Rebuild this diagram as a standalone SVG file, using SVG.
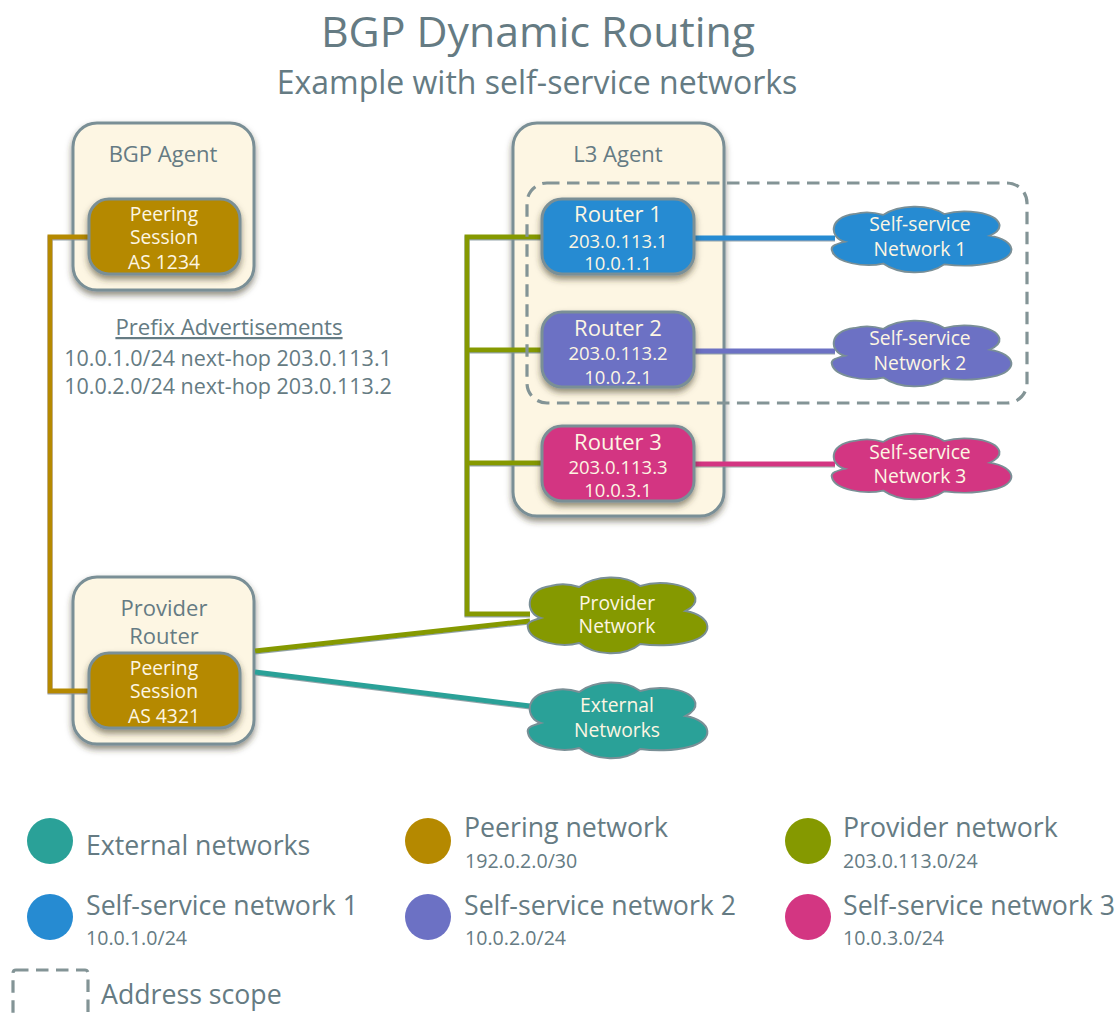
<svg xmlns="http://www.w3.org/2000/svg" xmlns:xlink="http://www.w3.org/1999/xlink" width="1119" height="1014" viewBox="0 0 1119 1014">
<style>
text{font-family:"Open Sans","DejaVu Sans",sans-serif;text-anchor:middle;fill:#657b83}
.l{text-anchor:start}
.w{fill:#fdf6e3}
.host{fill:#fdf6e3;stroke:#7a8f96;stroke-width:3;filter:url(#sh)}
.box{stroke:#7a8f96;stroke-width:3;filter:url(#sh)}
.cl{stroke:#7a8f96;stroke-width:2;vector-effect:non-scaling-stroke}
.dash{fill:none;stroke:#839496;stroke-width:3.2;stroke-dasharray:12.5 7.5}
.c{fill:none;stroke-width:5}
.t1{font-size:18.5px}
.t2{font-size:22px}
.t3{font-size:19.3px}
.t4{font-size:21.5px}
.t5{font-size:26.7px}
.t6{font-size:19.6px}
.pe{fill:#b58900}.pes{stroke:#b58900}
.bl{fill:#268bd2}.bls{stroke:#268bd2}
.vi{fill:#6c71c4}.vis{stroke:#6c71c4}
.ma{fill:#d33682}.mas{stroke:#d33682}
.gr{fill:#859900}.grs{stroke:#859900}
.cy{fill:#2aa198}.cys{stroke:#2aa198}
</style>
<defs>
<filter id="sh" x="-15%" y="-15%" width="130%" height="135%"><feDropShadow dx="0" dy="4" stdDeviation="3" flood-color="#3b3520" flood-opacity=".55"/></filter>
<filter id="edge" x="0" y="0" width="1119" height="1014" filterUnits="userSpaceOnUse"><feDropShadow dx="0" dy="1" stdDeviation=".4" flood-color="#7a8f96" flood-opacity=".8"/></filter>
<path id="cloud" d="M15 40C0 36-3 12 25 8C35 5 45 6 54 9C70-3 100-4 116 8C135 2 168 5 172 20C173 26 168 30 162 33C190 38 192 58 165 64C150 68 130 68 116 66C100 79 70 78 54 65C35 70 5 64 2 50C0 44 8 42 15 40Z"/>
</defs>
<rect width="1119" height="1014" fill="#fff"/>
<text x="538" y="47" font-size="42.8">BGP Dynamic Routing</text>
<text x="537" y="94" font-size="32">Example with self-service networks</text>
<g id="bgp-agent"><rect class="host" x="73" y="123" width="181" height="167" rx="24"/><text class="t2" x="163" y="162">BGP Agent</text></g>
<g id="l3-agent"><rect class="host" x="513" y="123" width="211" height="393" rx="24"/><text class="t2" x="618" y="162">L3 Agent</text></g>
<g id="provider-router"><rect class="host" x="73" y="577" width="181" height="167" rx="24"/><text class="t2" x="164" y="616">Provider</text><text class="t2" x="164" y="644">Router</text></g>
<g id="connectors" filter="url(#edge)">
<path class="c pes" d="M90 237H50V691H90"/>
<path class="c grs" d="M542 237H467V614H530M467 350H542M467 463H542M255 651L530 621"/>
<path class="c bls" d="M694 238H835"/>
<path class="c vis" d="M694 351H835"/>
<path class="c mas" d="M694 464H835"/>
<path class="c cys" d="M255 672L530 706"/>
</g>
<g id="address-scope"><rect class="dash" x="527" y="183" width="500" height="220" rx="20"/></g>
<g id="peering-1"><rect class="box pe" x="89" y="199" width="151" height="75" rx="20"/><text class="w t3" x="164" y="221">Peering</text><text class="w t3" x="164" y="244">Session</text><text class="w t3" x="164" y="269">AS 1234</text></g>
<g id="peering-2"><rect class="box pe" x="89" y="653" width="151" height="75" rx="20"/><text class="w t3" x="164" y="675">Peering</text><text class="w t3" x="164" y="698">Session</text><text class="w t3" x="164" y="723">AS 4321</text></g>
<g id="router-1"><rect class="box bl" x="542" y="199" width="152" height="75" rx="20"/><text class="w t2" x="618" y="222">Router 1</text><text class="w t1" x="618" y="248">203.0.113.1</text><text class="w t1" x="618" y="270">10.0.1.1</text></g>
<g id="router-2"><rect class="box vi" x="542" y="312" width="152" height="75" rx="20"/><text class="w t2" x="618" y="336">Router 2</text><text class="w t1" x="618" y="360">203.0.113.2</text><text class="w t1" x="618" y="384">10.0.2.1</text></g>
<g id="router-3"><rect class="box ma" x="542" y="426" width="152" height="75" rx="20"/><text class="w t2" x="618" y="450">Router 3</text><text class="w t1" x="618" y="474">203.0.113.3</text><text class="w t1" x="618" y="497">10.0.3.1</text></g>
<g id="net-1"><use xlink:href="#cloud" href="#cloud" class="cl bl" transform="translate(830 207) scale(.985 .87)"/><text class="w t3" x="920" y="231">Self-service</text><text class="w t3" x="920" y="256">Network 1</text></g>
<g id="net-2"><use xlink:href="#cloud" href="#cloud" class="cl vi" transform="translate(830 321) scale(.985 .87)"/><text class="w t3" x="920" y="345">Self-service</text><text class="w t3" x="920" y="370">Network 2</text></g>
<g id="net-3"><use xlink:href="#cloud" href="#cloud" class="cl ma" transform="translate(830 434) scale(.985 .87)"/><text class="w t3" x="920" y="459">Self-service</text><text class="w t3" x="920" y="483">Network 3</text></g>
<g id="provider-network"><use xlink:href="#cloud" href="#cloud" class="cl gr" transform="translate(526 578) scale(.985 1)"/><text class="w t3" x="617" y="610">Provider</text><text class="w t3" x="617" y="633">Network</text></g>
<g id="external-networks"><use xlink:href="#cloud" href="#cloud" class="cl cy" transform="translate(526 683) scale(.985 1)"/><text class="w t3" x="617" y="712">External</text><text class="w t3" x="617" y="737">Networks</text></g>
<g id="advert"><text x="229" y="335" font-size="22.2" text-decoration="underline">Prefix Advertisements</text><text class="t4" x="228" y="366">10.0.1.0/24 next-hop 203.0.113.1</text><text class="t4" x="228" y="394">10.0.2.0/24 next-hop 203.0.113.2</text></g>
<g id="legend">
<circle class="cy" cx="50" cy="841" r="23"/><text class="l t5" x="86" y="855">External networks</text>
<circle class="pe" cx="428" cy="841" r="23"/><text class="l t5" x="464" y="837">Peering network</text><text class="l t6" x="465" y="868">192.0.2.0/30</text>
<circle class="gr" cx="808" cy="841" r="23"/><text class="l t5" x="843" y="837">Provider network</text><text class="l t6" x="843" y="868">203.0.113.0/24</text>
<circle class="bl" cx="50" cy="917" r="23"/><text class="l t5" x="86" y="915">Self-service network 1</text><text class="l t6" x="86" y="945">10.0.1.0/24</text>
<circle class="vi" cx="428" cy="917" r="23"/><text class="l t5" x="464" y="915">Self-service network 2</text><text class="l t6" x="465" y="945">10.0.2.0/24</text>
<circle class="ma" cx="808" cy="917" r="23"/><text class="l t5" x="843" y="915">Self-service network 3</text><text class="l t6" x="843" y="945">10.0.3.0/24</text>
<rect class="dash" x="13" y="970" width="75" height="70" rx="3"/><text class="l t5" x="101" y="1004">Address scope</text>
</g>
</svg>
